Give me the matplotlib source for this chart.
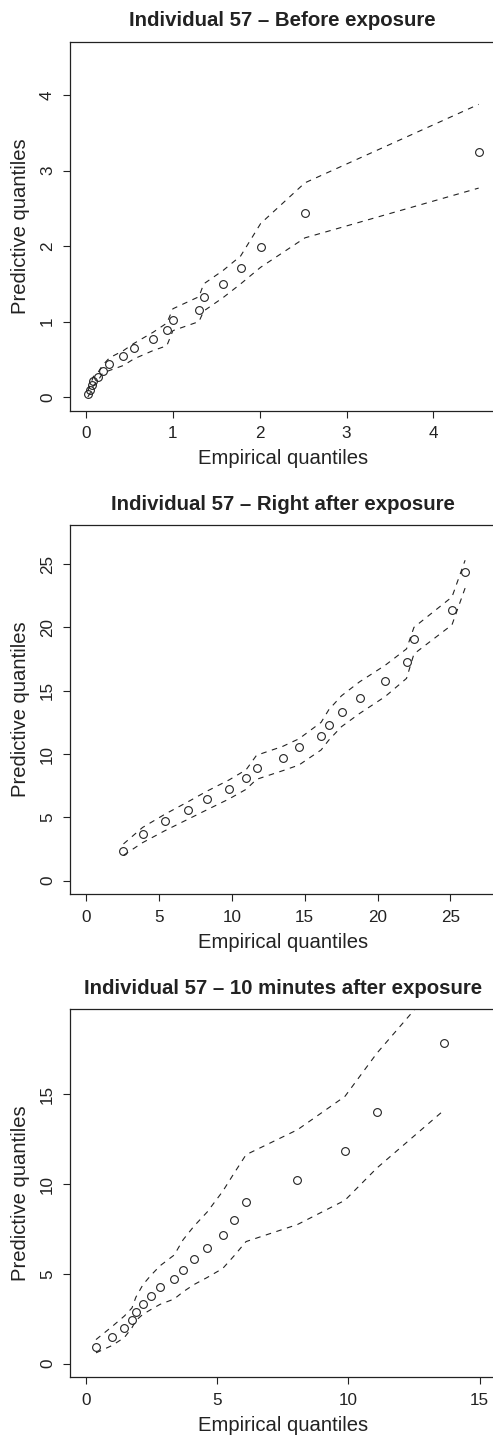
import matplotlib

matplotlib.use("Agg")
import matplotlib.pyplot as plt

plt.rcParams["font.family"] = ["Liberation Sans", "DejaVu Sans"]

TITLES = [
    "Individual 57 \u2013 Before exposure",
    "Individual 57 \u2013 Right after exposure",
    "Individual 57 \u2013 10 minutes after exposure",
]

# Before exposure
emp1 = [0.02, 0.046, 0.065, 0.084, 0.14, 0.19, 0.27, 0.43, 0.55, 0.77,
        0.93, 1.00, 1.30, 1.355, 1.58, 1.78, 2.01, 2.52, 4.52]
pred1 = [0.036, 0.097, 0.154, 0.207, 0.264, 0.343, 0.435, 0.546, 0.656, 0.765,
         0.884, 1.016, 1.16, 1.32, 1.50, 1.71, 1.99, 2.435, 3.25]
up1 = [0.08, 0.15, 0.21, 0.27, 0.33, 0.42, 0.52, 0.615, 0.71, 0.857,
       0.98, 1.17, 1.33, 1.50, 1.68, 1.87, 2.30, 2.84, 3.88]
lo1 = [0.0, 0.05, 0.10, 0.15, 0.22, 0.317, 0.352, 0.418, 0.505, 0.615,
       0.68, 0.88, 1.0, 1.14, 1.32, 1.50, 1.72, 2.11, 2.77]

# Right after exposure
emp2 = [2.57, 3.88, 5.42, 7.03, 8.27, 9.81, 10.98, 11.70, 13.49, 14.61,
        16.13, 16.66, 17.53, 18.77, 20.52, 21.99, 22.50, 25.11, 26.01]
pred2 = [2.34, 3.66, 4.71, 5.61, 6.45, 7.26, 8.11, 8.89, 9.71, 10.55,
         11.39, 12.32, 13.32, 14.45, 15.74, 17.29, 19.08, 21.34, 24.39]
up2 = [2.9, 4.2, 5.25, 6.25, 7.05, 7.95, 8.75, 9.9, 10.6, 11.2,
       12.5, 13.5, 14.6, 15.7, 17.0, 18.3, 20.0, 22.4, 25.3]
lo2 = [2.0, 3.0, 3.95, 4.87, 5.58, 6.45, 7.21, 8.0, 8.68, 9.13,
       10.32, 11.1, 12.16, 13.2, 14.53, 15.97, 17.9, 20.2, 23.1]

# 10 minutes after exposure
emp3 = [0.38, 0.98, 1.46, 1.75, 1.90, 2.17, 2.46, 2.82, 3.36, 3.70,
        4.11, 4.62, 5.21, 5.64, 6.10, 8.06, 9.87, 11.09, 13.63]
pred3 = [0.91, 1.50, 2.00, 2.45, 2.90, 3.32, 3.79, 4.25, 4.72, 5.23,
         5.81, 6.44, 7.17, 8.0, 9.0, 10.25, 11.82, 14.03, 17.84]
up3 = [1.34, 2.05, 2.65, 3.1, 3.7, 4.4, 4.9, 5.45, 6.05, 6.9,
       7.65, 8.45, 9.6, 10.6, 11.64, 13.03, 14.89, 17.3, 21.6]
lo3 = [0.6, 1.0, 1.45, 2.0, 2.4, 2.75, 3.0, 3.3, 3.6, 4.0,
       4.4, 4.8, 5.3, 6.0, 6.8, 7.75, 9.1, 10.9, 14.1]

XLIMS = [(0, 4.53), (0, 27), (0, 15)]
YLIMS = [(0, 4.53), (0, 27), (0, 19)]
XTICKS = [[0, 1, 2, 3, 4], [0, 5, 10, 15, 20, 25], [0, 5, 10, 15]]
YTICKS = [[0, 1, 2, 3, 4], [0, 5, 10, 15, 20, 25], [0, 5, 10, 15]]

INK = "#222222"


def r_lims(lo, hi):
    # R style axis padding: 4% on both sides
    pad = 0.04 * (hi - lo)
    return lo - pad, hi + pad


def draw_panel(ax, emp, pred, up, lo, title, xlim, ylim, xticks, yticks):
    dash = (0, (5, 5))
    ax.plot(emp, up, color=INK, lw=0.8, linestyle=dash)
    ax.plot(emp, lo, color=INK, lw=0.8, linestyle=dash)
    ax.plot(emp, pred, "o", ms=5.6, mfc="none", mec=INK, mew=0.8)

    ax.set_xlim(*r_lims(*xlim))
    ax.set_ylim(*r_lims(*ylim))
    ax.set_xticks(xticks)
    ax.set_yticks(yticks)
    ax.set_yticklabels([str(t) for t in yticks], rotation=90, va="center")
    ax.tick_params(direction="out", length=5, width=0.8, colors=INK,
                   labelsize=12.3, pad=6)

    for side in ("left", "bottom", "top"):
        ax.spines[side].set_linewidth(0.9)
        ax.spines[side].set_color(INK)
    ax.spines["right"].set_visible(False)

    ax.set_title(title, fontsize=14.7, fontweight="bold", color=INK, pad=11)
    ax.set_xlabel("Empirical quantiles", fontsize=14.6, color=INK, labelpad=6)
    ax.set_ylabel("Predictive quantiles", fontsize=14.6, color=INK, labelpad=7)


def main():
    fig = plt.figure(figsize=(4.93, 14.42), dpi=100)

    # axes boxes in figure fractions (left, bottom, width, height)
    boxes = [
        (0.1426, 0.7152, 0.862, 0.2559),
        (0.1426, 0.3798, 0.862, 0.2561),
        (0.1426, 0.0449, 0.862, 0.2554),
    ]
    data = [
        (emp1, pred1, up1, lo1),
        (emp2, pred2, up2, lo2),
        (emp3, pred3, up3, lo3),
    ]

    for i, box in enumerate(boxes):
        ax = fig.add_axes(box)
        emp, pred, up, lo = data[i]
        draw_panel(ax, emp, pred, up, lo, TITLES[i],
                   XLIMS[i], YLIMS[i], XTICKS[i], YTICKS[i])

    fig.savefig("out.png", dpi=100)
    plt.close(fig)


if __name__ == "__main__":
    main()
